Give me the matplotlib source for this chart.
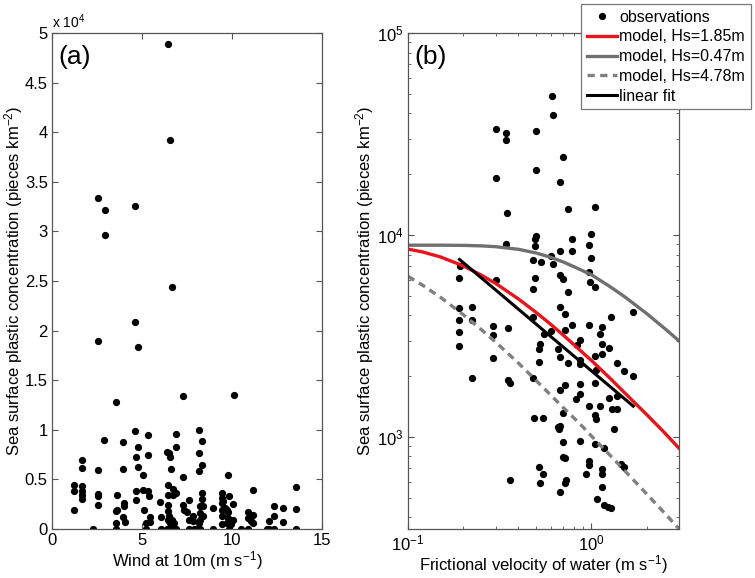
import numpy as np
import matplotlib
matplotlib.use("Agg")
import matplotlib.pyplot as plt
from matplotlib.ticker import LogLocator, NullFormatter

plt.rcParams['font.family'] = ['Liberation Sans', 'DejaVu Sans']
plt.rcParams['mathtext.fontset'] = 'custom'
plt.rcParams['mathtext.rm'] = 'Liberation Sans'
plt.rcParams['mathtext.it'] = 'Liberation Sans:italic'
plt.rcParams['axes.unicode_minus'] = False

# ---------------- Panel (a): wind at 10 m vs concentration (x 1e4) ----------------
wind = [1.2, 1.2, 1.2, 1.68, 1.68, 1.68, 1.68, 1.68, 1.68, 2.27, 2.55, 2.55, 2.55, 2.55, 2.55,
        2.9, 3.53, 3.6, 3.53, 3.6, 3.53, 3.53, 3.97, 3.97, 4.0, 4.0, 3.97, 4.03,
        4.62, 4.62, 4.68, 4.77, 4.77, 4.68, 4.68, 4.77, 5.08, 5.08, 5.12, 5.21,
        5.34, 5.34, 5.34, 5.41, 5.23, 5.45, 5.45, 6.0, 6.04, 6.04,
        6.41, 6.52, 6.56, 6.62, 6.43, 6.43, 6.71, 6.71, 6.43, 6.43, 6.5, 6.47, 6.56, 6.56,
        6.71, 6.38, 6.65, 6.75, 6.88,
        6.9, 6.9, 6.9, 7.26, 7.26, 7.26, 7.34, 7.49, 7.6, 7.6, 7.6, 7.82, 7.86, 7.91, 8.04,
        8.14, 8.14, 8.14, 8.32, 8.32, 8.32, 8.32, 8.23, 8.38, 8.23, 8.23, 8.38, 8.14, 8.23,
        8.93, 8.93, 9.43, 9.43, 9.43, 9.43, 9.43, 9.43, 9.52, 9.61, 9.71, 9.71, 9.8, 9.76,
        9.76, 9.85, 9.85, 9.89, 9.95, 10.07, 10.07, 10.11, 10.5, 10.9, 10.9, 10.9,
        11.18, 11.18, 11.18, 11.04, 11.92, 12.07, 12.07, 12.33, 12.33, 12.33, 12.81, 12.81,
        13.55, 13.55, 13.55,
        6.45, 6.58, 2.55, 2.92, 4.62, 2.92, 6.64]
conc_a = [0.44, 0.38, 0.19, 0.70, 0.61, 0.43, 0.38, 0.34, 0.30, 0.0, 1.90, 0.59, 0.35, 0.33, 0.24,
          0.90, 1.28, 0.34, 0.18, 0.19, 0.06, 0.0, 0.88, 0.60, 0.26, 0.23, 0.12, 0.07,
          2.09, 0.99, 0.73, 0.83, 0.63, 0.38, 0.29, 1.83, 0.54, 0.39, 0.19, 0.0,
          0.95, 0.75, 0.38, 0.33, 0.06, 0.12, 0.07, 0.27, 0.12, 0.0,
          0.78, 0.77, 0.73, 0.60, 0.44, 0.34, 0.40, 0.34, 0.24, 0.18, 0.13, 0.09, 0.06, 0.0,
          0.0, 0.0, 0.09, 0.06, 0.0,
          0.96, 0.83, 0.36, 1.34, 0.52, 0.24, 0.19, 0.17, 0.29, 0.09, 0.0, 0.13, 0.08, 0.0, 0.0,
          1.00, 0.77, 0.58, 0.89, 0.65, 0.36, 0.30, 0.23, 0.23, 0.16, 0.09, 0.13, 0.06, 0.0,
          0.21, 0.0, 0.36, 0.31, 0.26, 0.19, 0.13, 0.05, 0.28, 0.21, 0.19, 0.06, 0.17, 0.11,
          0.54, 0.33, 0.0, 0.09, 0.05, 0.25, 0.09, 1.35, 0.0, 0.0, 0.17, 0.11,
          0.39, 0.14, 0.06, 0.08, 0.0, 0.0, 0.08, 0.23, 0.13, 0.0, 0.21, 0.07,
          0.42, 0.20, 0.0,
          4.89, 3.92, 3.34, 3.22, 3.26, 2.96, 2.44]

# ---------------- Panel (b): frictional velocity vs concentration ----------------
ustar = [0.611, 0.615, 0.303, 0.343, 0.343, 0.496, 0.496, 0.698, 0.303, 0.67, 0.348, 0.743, 1.04,
         1.0, 0.49, 0.496, 0.343, 0.49, 0.975, 0.782, 0.782, 0.67, 0.604, 0.615, 0.483, 0.532,
         1.0, 0.975, 0.191, 0.19, 0.303, 0.49, 0.67, 0.70, 0.98, 1.04, 0.483, 0.743,
         0.190, 0.190, 0.190, 0.190, 0.223, 0.223, 0.223, 0.290, 0.290, 0.290, 0.350, 0.350,
         0.361, 0.361, 0.479, 0.527, 0.515, 0.515, 0.479, 0.489, 0.543, 0.515, 0.543, 0.527,
         0.670, 0.719, 0.782, 0.604, 0.550, 0.719, 0.656, 0.670, 0.743, 0.871, 0.835, 0.975,
         1.14, 1.12, 1.14, 1.24, 1.14, 1.04, 1.27, 1.69, 0.871, 0.871, 1.06, 1.38, 1.51, 1.69,
         0.719, 0.871, 0.670, 0.871, 0.826, 1.04, 1.24, 1.37, 0.975, 1.12, 1.29, 1.38,
         0.704, 1.04, 1.06, 0.656, 0.674, 0.662, 1.33, 0.704, 0.871, 1.04, 1.17,
         0.704, 0.72, 0.975, 0.975, 1.45, 1.51, 1.14, 1.14, 0.935, 0.727, 0.719,
         0.67, 1.14, 1.07, 1.17, 1.23, 1.27]
conc_b = [49000, 39300, 33500, 32100, 29600, 32600, 21000, 24300, 19100, 18300, 12800, 13500, 13700,
          10100, 9600, 9900, 9060, 8800, 8900, 9600, 8330, 8330, 7850, 7220, 7500, 7350,
          7690, 6560, 7030, 6150, 5970, 6120, 6300, 6080, 5850, 5530, 5430, 5190,
          4330, 3810, 3300, 2830, 4400, 3810, 1950, 3550, 3210, 2470, 3450, 1920,
          1850, 611, 3930, 2900, 2730, 2350, 1950, 1240, 1240, 706, 652, 594,
          4400, 4040, 3570, 3340, 3250, 3370, 2740, 2490, 2310, 3030, 2840, 3570,
          3510, 3250, 2900, 2770, 2570, 2510, 3930, 4160, 2400, 2290, 2140, 2320, 2110, 2010,
          1800, 1820, 1700, 1640, 1540, 1840, 1550, 1590, 1420, 1420, 1380, 1380,
          1310, 1290, 1230, 1120, 1130, 1100, 1100, 944, 953, 927, 886,
          796, 782, 761, 724, 738, 706, 690, 652, 652, 611, 594,
          535, 565, 495, 459, 450, 446]

# model curves
model_u = [0.1, 0.12, 0.15, 0.2, 0.25, 0.3, 0.4, 0.5, 0.6, 0.7, 0.85, 1.0, 1.25, 1.5, 2.0, 2.5, 3.0]
model_185 = [8510, 8240, 7790, 7030, 6340, 5760, 4820, 4130, 3610, 3200, 2730, 2390, 1970,
             1670, 1290, 1050, 879]
model_047 = [8900, 8900, 8900, 8880, 8830, 8750, 8490, 8140, 7750, 7360, 6800, 6350, 5580,
             4980, 4080, 3450, 2990]
model_478 = [6240, 5640, 4920, 4030, 3410, 2950, 2320, 1900, 1610, 1400, 1180, 1010, 819,
             688, 522, 420, 351]
fit_u = [0.191, 1.69]
fit_c = [7560, 1420]

fig = plt.figure(figsize=(7.55, 5.78), dpi=100)
W, H = 755, 578
axa = fig.add_axes([52 / W, 1 - 529 / H, 270 / W, 496 / H])
axb = fig.add_axes([408 / W, 1 - 529 / H, 271 / W, 496 / H])

FS = 12
spine_col = '#555555'

for ax in (axa, axb):
    for s in ax.spines.values():
        s.set_color(spine_col)
        s.set_linewidth(0.9)
    ax.tick_params(which='both', direction='in', top=True, right=True,
                   labelsize=FS, color=spine_col, pad=3)
    ax.tick_params(which='major', length=4.5)
    ax.tick_params(which='minor', length=2.5)

# Panel (a)
axa.plot(wind, [c * 1e4 for c in conc_a], 'o', ls='none', ms=4.2, color='black')
axa.set_xlim(0, 15)
axa.set_ylim(0, 5e4)
axa.set_xticks([0, 5, 10, 15])
yt = np.arange(0, 5.01, 0.5)
axa.set_yticks(yt * 1e4)
axa.set_yticklabels(['%g' % v for v in yt])
axa.set_xlabel(r'Wind at 10m (m s$\mathregular{^{-1}}$)', fontsize=FS, labelpad=1)
axa.set_ylabel(r'Sea surface plastic concentration (pieces km$\mathregular{^{-2}}$)',
               fontsize=FS, labelpad=0)
axa.text(0.025, 0.975, '(a)', transform=axa.transAxes, ha='left', va='top', fontsize=19)
axa.text(0.0, 1.005, r'x 10$\mathregular{^{4}}$', transform=axa.transAxes,
         ha='left', va='bottom', fontsize=10)

# Panel (b)
axb.set_xscale('log')
axb.set_yscale('log')
h_obs, = axb.plot(ustar, conc_b, 'o', ls='none', ms=4.2, color='black', label='observations')
h1, = axb.plot(model_u, model_185, color='#e8141b', lw=2.4, label='model, Hs=1.85m')
h2, = axb.plot(model_u, model_047, color='#707070', lw=2.4, label='model, Hs=0.47m')
h3, = axb.plot(model_u, model_478, color='#808080', lw=2.4, ls=(0, (2.2, 1.6)),
               label='model, Hs=4.78m')
h4, = axb.plot(fit_u, fit_c, color='black', lw=2.2, label='linear fit')
axb.set_xlim(0.1, 3)
axb.set_ylim(350, 1e5)
axb.xaxis.set_major_locator(LogLocator(base=10, numticks=10))
axb.xaxis.set_minor_locator(LogLocator(base=10, subs=np.arange(2, 10), numticks=20))
axb.xaxis.set_minor_formatter(NullFormatter())
axb.yaxis.set_minor_formatter(NullFormatter())
axb.set_xlabel(r'Frictional velocity of water (m s$\mathregular{^{-1}}$)', fontsize=FS, labelpad=0)
axb.set_ylabel(r'Sea surface plastic concentration (pieces km$\mathregular{^{-2}}$)',
               fontsize=FS, labelpad=1)
axb.text(0.025, 0.975, '(b)', transform=axb.transAxes, ha='left', va='top', fontsize=19)

leg = fig.legend(handles=[h_obs, h1, h2, h3, h4], loc='upper left',
                 bbox_to_anchor=(581 / W, 1 - 4 / H), borderaxespad=0,
                 fontsize=11.5, frameon=True, fancybox=False, framealpha=1,
                 edgecolor='#777777', handlelength=1.9, handletextpad=0.15,
                 labelspacing=0.3, borderpad=0.35, numpoints=1)
leg.get_frame().set_linewidth(0.9)

fig.savefig('out.png', dpi=100)
